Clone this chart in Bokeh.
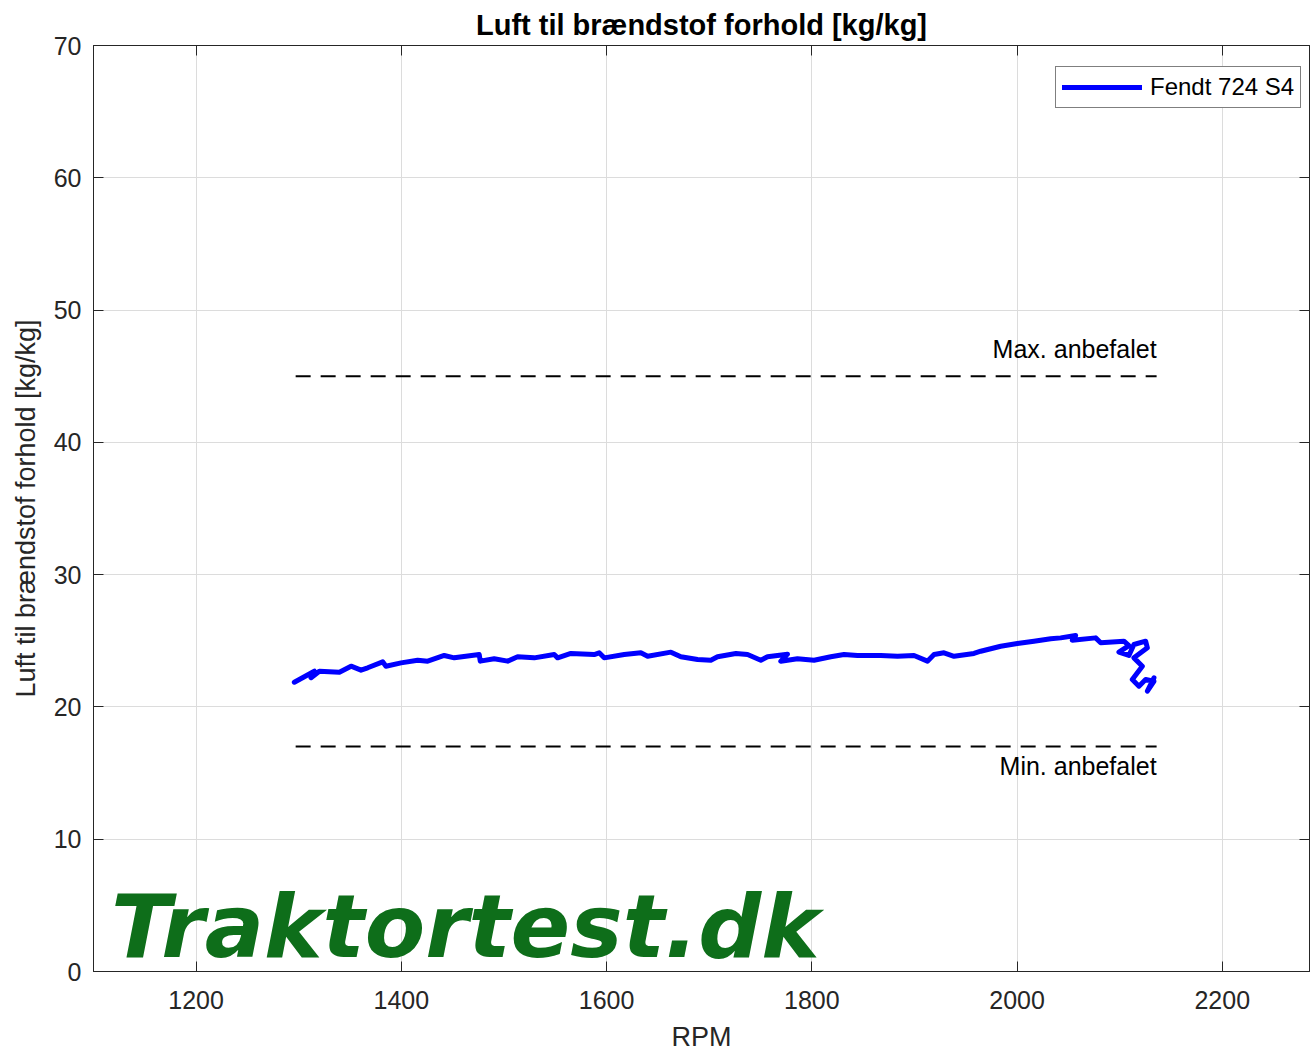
from bokeh.plotting import figure
from bokeh.models import (Range1d, LinearAxis, Label, Legend, LegendItem,
                          FixedTicker, ColumnDataSource, Title)
from bokeh.embed import file_html
from bokeh.resources import INLINE
from bokeh.core.properties import value

# ---- data ----
rpm = [1295.7, 1315.2, 1312.0, 1320.1, 1339.6, 1351.0, 1360.7, 1367.2, 1381.8, 1385.0,
       1399.7, 1415.9, 1425.7, 1441.8, 1451.6, 1475.9, 1476.9, 1490.5, 1503.6, 1513.3,
       1529.5, 1549.0, 1552.3, 1565.2, 1587.9, 1592.8, 1597.7, 1617.2, 1633.4, 1640.0,
       1662.7, 1672.4, 1688.7, 1701.6, 1708.1, 1726.0, 1737.4, 1750.3, 1756.8, 1776.3,
       1769.8, 1786.0, 1802.2, 1818.5, 1831.4, 1844.5, 1867.2, 1883.5, 1899.6, 1912.7,
       1919.1, 1928.8, 1938.6, 1958.0, 1964.6, 1984.1, 2000.3, 2016.5, 2032.8, 2042.5,
       2057.1, 2053.9, 2076.6, 2081.5, 2104.2, 2109.0, 2099.3, 2109.0, 2113.9, 2125.3,
       2127.0, 2113.9, 2122.1, 2112.3, 2118.8, 2125.3, 2133.4, 2127.0, 2133.4]
afr = [21.87, 22.70, 22.20, 22.70, 22.62, 23.08, 22.78, 22.96, 23.41, 23.08,
       23.33, 23.53, 23.46, 23.89, 23.71, 23.96, 23.46, 23.64, 23.46, 23.79,
       23.71, 23.96, 23.71, 24.04, 23.96, 24.09, 23.71, 23.96, 24.09, 23.83,
       24.14, 23.79, 23.58, 23.53, 23.79, 24.04, 23.96, 23.53, 23.79, 23.99,
       23.46, 23.64, 23.53, 23.79, 23.96, 23.89, 23.89, 23.83, 23.89, 23.46,
       23.96, 24.09, 23.83, 24.04, 24.21, 24.59, 24.79, 24.97, 25.15, 25.22,
       25.40, 25.04, 25.22, 24.85, 24.97, 24.64, 24.14, 23.89, 24.72, 24.97,
       24.47, 23.71, 23.08, 22.07, 21.57, 22.07, 21.94, 21.19, 22.20]

rec_rpm = [1297, 2136]
rec_max = [45, 45]
rec_min = [17, 17]

x_ticks = [1200, 1400, 1600, 1800, 2000, 2200]
y_ticks = [0, 10, 20, 30, 40, 50, 60, 70]

series_name = "Fendt 724 S4"
title_text = "Luft til brændstof forhold [kg/kg]"
x_label = "RPM"
y_label = "Luft til brændstof forhold [kg/kg]"
max_text = "Max. anbefalet"
min_text = "Min. anbefalet"
logo_text = "Traktortest.dk"

FONT = "Liberation Sans"
AX = "#262626"

p = figure(width=1310, height=1054, output_backend="svg", toolbar_location=None,
           x_range=Range1d(1100, 2285), y_range=Range1d(0, 70),
           min_border_left=93, min_border_right=1, min_border_bottom=79,
           min_border_top=45, title=None)
p.background_fill_color = "white"
p.border_fill_color = "white"
p.outline_line_color = AX
p.outline_line_width = 1

for ax in p.xaxis:
    ax.ticker = FixedTicker(ticks=x_ticks)
for ax in p.yaxis:
    ax.ticker = FixedTicker(ticks=y_ticks)

def style_axis(ax, show_labels=True):
    ax.axis_line_color = AX
    ax.major_tick_line_color = AX
    ax.major_tick_in = 10
    ax.major_tick_out = 0
    ax.minor_tick_line_color = None
    ax.major_label_text_font = FONT
    ax.major_label_text_color = AX
    ax.major_label_text_font_size = "25px" if show_labels else "0px"
    ax.axis_label_text_font = FONT
    ax.axis_label_text_font_style = "normal"
    ax.axis_label_text_color = AX
    ax.axis_label_text_font_size = "27px"

for ax in p.xaxis + p.yaxis:
    style_axis(ax)
p.xaxis.axis_label = x_label
p.yaxis.axis_label = y_label
p.xaxis.major_label_standoff = 19
p.yaxis.major_label_standoff = 12
p.xaxis.axis_label_standoff = 10
p.yaxis.axis_label_standoff = 10

top = LinearAxis(ticker=FixedTicker(ticks=x_ticks))
style_axis(top, show_labels=False)
top.major_label_standoff = 0
right = LinearAxis(ticker=FixedTicker(ticks=y_ticks))
style_axis(right, show_labels=False)
right.major_label_standoff = 0
p.add_layout(top, "above")
p.add_layout(right, "right")

t = Title(text=title_text, align="center", text_font=FONT, text_font_size="29px",
          text_font_style="bold", text_color="black", standoff=9, offset=0)
p.add_layout(t, "above")

p.xgrid.ticker = FixedTicker(ticks=x_ticks)
p.ygrid.ticker = FixedTicker(ticks=y_ticks)
p.grid.grid_line_color = "#dcdcdc"
p.grid.grid_line_width = 1

# recommended limits
p.line(rec_rpm, rec_max, line_color="black", line_width=2, line_dash="15 10")
p.line(rec_rpm, rec_min, line_color="black", line_width=2, line_dash="15 10")
p.text(x=[rec_rpm[1]], y=[rec_max[0]], text=[max_text], text_font=value(FONT),
       text_font_size="25px", text_color="black", text_align="right",
       text_baseline="bottom", y_offset=-13)
p.text(x=[rec_rpm[1]], y=[rec_min[0]], text=[min_text], text_font=value(FONT),
       text_font_size="25px", text_color="black", text_align="right",
       text_baseline="top", y_offset=5)

src = ColumnDataSource(dict(x=rpm, y=afr))
r = p.line("x", "y", source=src, line_color="#0000ff", line_width=5,
           line_join="round", line_cap="round")

legend = Legend(items=[LegendItem(label=series_name, renderers=[r])],
                location=(962, 863), label_text_font=FONT,
                label_text_font_size="24px", label_text_color="black",
                glyph_width=80, glyph_height=20, label_standoff=8,
                padding=6, margin=0, border_line_color="black",
                border_line_width=1, background_fill_color="white",
                background_fill_alpha=1)
p.add_layout(legend, "center")

logo = Label(x=1117, y=3.4, text=logo_text, text_font="DejaVu Sans",
             text_font_style="bold italic", text_font_size="88px",
             text_color="#0e6e1a", text_baseline="alphabetic")
p.add_layout(logo)

open("out.html", "w").write(file_html(p, INLINE))
